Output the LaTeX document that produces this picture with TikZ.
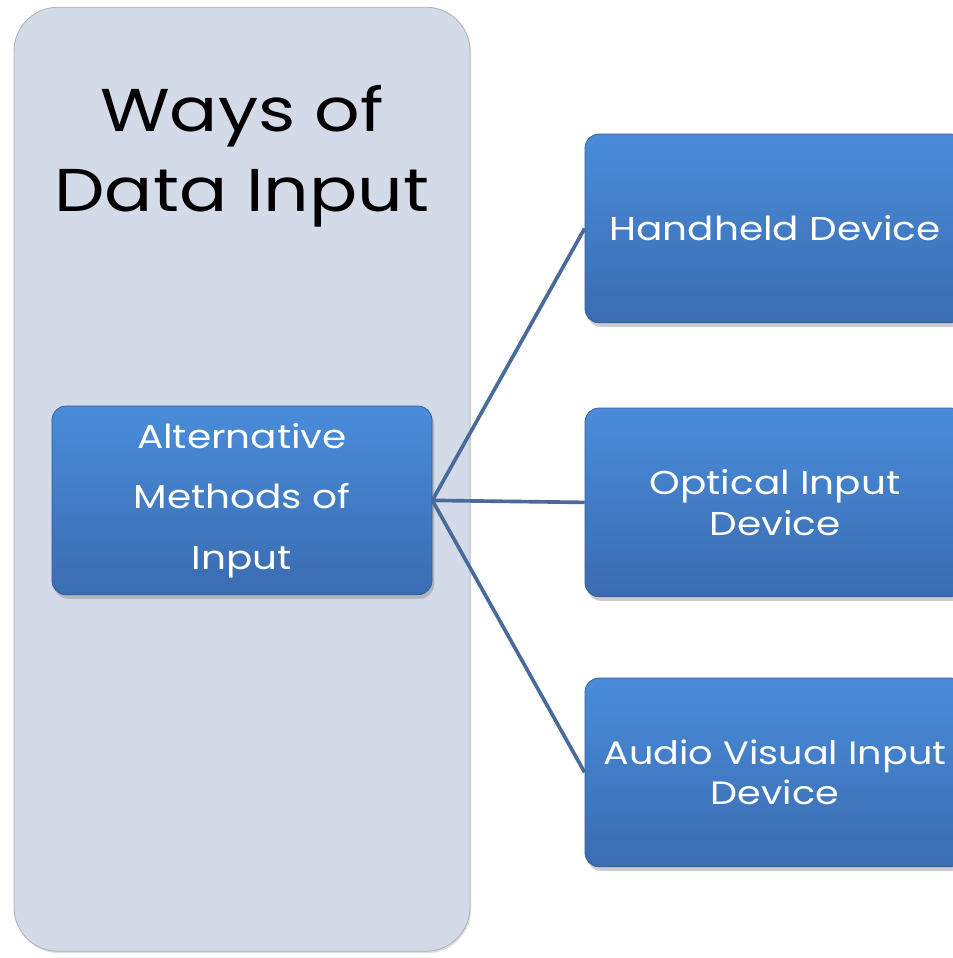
\documentclass[tikz,border=0pt]{standalone}
\usepackage{fontspec}
\setmainfont[FakeStretch=1.18]{Poppins}
\usetikzlibrary{positioning,shadows}

\definecolor{panelfill}{HTML}{D3DAE8}
\definecolor{boxtop}{HTML}{4A8CDA}
\definecolor{boxbottom}{HTML}{3A6CB0}
\definecolor{linkcol}{HTML}{4A6A9A}

\tikzset{
	panel/.style={draw=gray!60, line width=0.6pt, fill=panelfill, rounded corners=1.1cm, minimum width=11.4cm, minimum height=23.6cm, drop shadow={opacity=0.25, shadow xshift=0.03cm, shadow yshift=-0.05cm}},
	methodbox/.style={draw=boxbottom!85!black, line width=0.5pt, top color=boxtop, bottom color=boxbottom, rounded corners=0.35cm, minimum width=9.5cm, minimum height=4.72cm, text=white, align=center, drop shadow={opacity=0.4, shadow xshift=0.05cm, shadow yshift=-0.1cm}},
	link/.style={draw=linkcol, line width=2.6pt}
}

\begin{document}
\begin{tikzpicture}
					% page frame
					\useasboundingbox (0,0) rectangle (23.825,-23.95);
					
					% left panel with its title
					\node[panel] (panel) at (6.05,-11.98) {};
					\node[align=center, font=\fontsize{43}{57}\selectfont] (title) at (6.05,-3.9) {Ways of\\Data Input};
					
					% source box
					\node[methodbox, font=\fontsize{23.5}{43}\selectfont] (alt) at (6.05,-12.51) {Alternative\\Methods of\\Input};
					
					% the three kinds of input
					\node[methodbox, font=\fontsize{23.5}{29}\selectfont] (hand) at (19.375,-5.71) {Handheld Device};
					\node[methodbox, font=\fontsize{23.5}{29}\selectfont] (optic) at (19.375,-12.56) {Optical Input\\Device};
					\node[methodbox, font=\fontsize{23}{29}\selectfont] (audio) at (19.375,-19.31) {Audio Visual Input\\Device};
					
					% connectors
					\draw[link] (alt.east) -- (hand.west);
					\draw[link] (alt.east) -- (optic.west);
					\draw[link] (alt.east) -- (audio.west);
				\end{tikzpicture}
\end{document}
